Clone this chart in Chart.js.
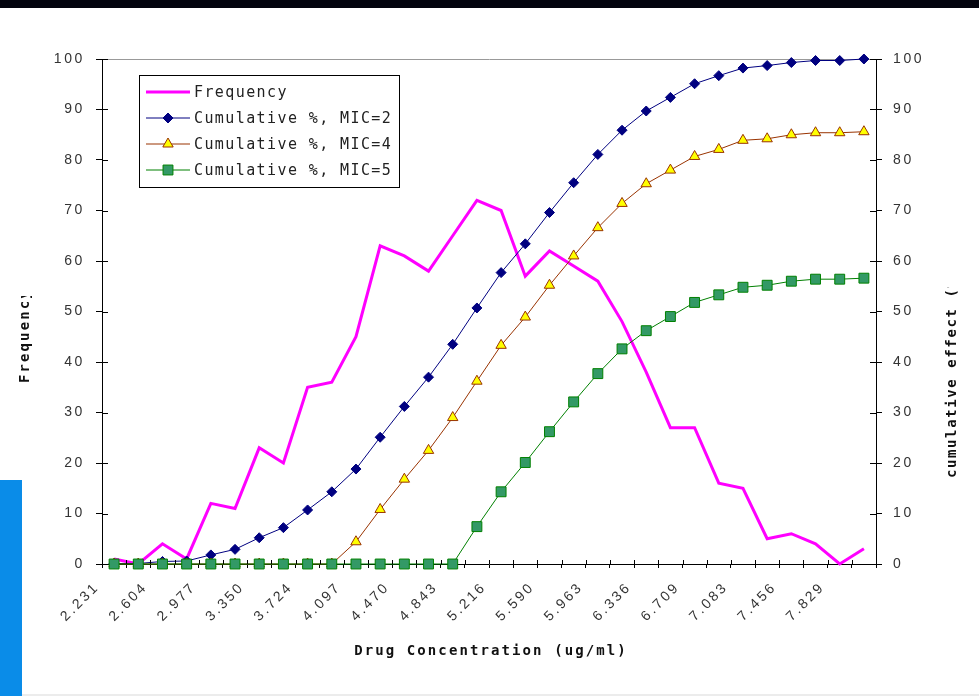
<!DOCTYPE html>
<html>
<head>
<meta charset="utf-8">
<script src="https://cdn.jsdelivr.net/npm/chart.js@4.4.1/dist/chart.umd.min.js"></script>
<style>
html,body{margin:0;padding:0;background:#fff;overflow:hidden}
#wrap{position:relative;width:979px;height:696px}
#topband{position:absolute;left:0;top:0;width:979px;height:8px;background:#03040e}
#sidebar{position:absolute;left:0;top:480px;width:22px;height:216px;background:#0a8ce8}
#bottomline{position:absolute;left:22px;top:694px;width:957px;height:2px;background:#ececec}
canvas{position:absolute;left:0;top:0}
</style>
</head>
<body>
<div id="wrap">
  <div id="topband"></div>
  <div id="sidebar"></div>
  <div id="bottomline"></div>
  <canvas id="chart" width="979" height="696"></canvas>
</div>
<script>
// x tick labels, one every second category (ug/ml)
const tickLabels = ['2.231','2.604','2.977','3.350','3.724','4.097','4.470','4.843',
                    '5.216','5.590','5.963','6.336','6.709','7.083','7.456','7.829'];

// values, 32 concentration classes
const frequency = [1,0,4,1,12,11,23,20,35,36,45,63,61,58,65,72,
                   70,57,62,59,56,48,38,27,27,16,15,5,6,4,0,3];
const cumMic2 = [0.1,0.1,0.5,0.6,1.8,2.9,5.2,7.2,10.7,14.3,18.8,25.1,31.2,37,43.5,50.7,
                 57.7,63.4,69.6,75.5,81.1,85.9,89.7,92.4,95.1,96.7,98.2,98.7,99.3,99.7,99.7,100];
const cumMic4 = [0,0,0,0,0,0,0,0,0,0,4.4,10.8,16.8,22.5,29,36.2,
                 43.3,48.9,55.2,61,66.6,71.4,75.3,78,80.7,82.1,83.9,84.2,85,85.4,85.4,85.6];
const cumMic5 = [0,0,0,0,0,0,0,0,0,0,0,0,0,0,0,7.4,
                 14.3,20.1,26.2,32.1,37.7,42.6,46.2,49,51.8,53.3,54.8,55.2,56,56.4,56.4,56.6];

const labels = frequency.map((_, i) => i % 2 === 0 ? tickLabels[i / 2] : '');

const TXT = '#333';
const MONO = '"DejaVu Sans Mono", monospace';
Chart.defaults.font.family = '"Liberation Sans", Arial, sans-serif';

const spacing = {
  id: 'spacing',
  beforeDraw(chart){ chart.ctx.letterSpacing = '2.6px'; }
};

// short tick parts inside the plot (axes ticks cross the axis lines)
const innerTicks = {
  id: 'innerTicks',
  afterDraw(chart){
    const {ctx, chartArea:a, scales} = chart;
    ctx.save();
    ctx.strokeStyle = '#000'; ctx.lineWidth = 1;
    ctx.beginPath();
    scales.y.ticks.forEach(t=>{
      const y = Math.round(scales.y.getPixelForValue(t.value)) + 0.5;
      ctx.moveTo(a.left, y); ctx.lineTo(a.left + 6, y);
      ctx.moveTo(a.right, y); ctx.lineTo(a.right - 6, y);
    });
    const xs = scales.x, half = (xs.getPixelForValue(1) - xs.getPixelForValue(0)) / 2;
    for(let i=0;i<labels.length;i++){
      const x = Math.round(xs.getPixelForValue(i) + half) + 0.5;
      ctx.moveTo(x, a.bottom); ctx.lineTo(x, a.bottom - 4);
    }
    ctx.stroke();
    ctx.restore();
  }
};

function marker(ctx, ds, x, y){
  if(!ds.pointRadius) return;
  ctx.fillStyle = ds.pointBackgroundColor; ctx.strokeStyle = ds.pointBorderColor; ctx.lineWidth = 1;
  if(Chart.helpers && Chart.helpers.drawPoint){
    Chart.helpers.drawPoint(ctx, {pointStyle: ds.pointStyle, rotation: 0, radius: ds.pointRadius, borderWidth: 1}, x, y);
  }
}

const boxLegend = {
  id: 'boxLegend',
  afterDraw(chart){
    const ctx = chart.ctx;
    ctx.save();
    ctx.fillStyle = '#fff'; ctx.strokeStyle = '#000'; ctx.lineWidth = 1;
    ctx.fillRect(139.5, 75.5, 260, 112); ctx.strokeRect(139.5, 75.5, 260, 112);
    const rows = [92, 118, 144, 170];
    chart.data.datasets.forEach((ds, i)=>{
      const y = rows[i];
      ctx.beginPath();
      ctx.strokeStyle = ds.borderColor; ctx.lineWidth = ds.borderWidth;
      ctx.moveTo(146, y); ctx.lineTo(190, y); ctx.stroke();
      marker(ctx, ds, 168, y);
      ctx.fillStyle = '#222'; ctx.font = '15px ' + MONO; ctx.letterSpacing = '1.4px';
      ctx.textAlign = 'left'; ctx.textBaseline = 'middle';
      ctx.fillText(ds.label, 194, y + 1);
    });
    ctx.restore();
  }
};

const axisTitles = {
  id: 'axisTitles',
  afterDraw(chart){
    const ctx = chart.ctx;
    ctx.save();
    ctx.fillStyle = '#111'; ctx.font = 'bold 14px ' + MONO; ctx.letterSpacing = '2.1px';
    ctx.textAlign = 'center'; ctx.textBaseline = 'middle';
    ctx.fillText('Drug Concentration (ug/ml)', 491, 651);

    ctx.textAlign = 'left';
    ctx.save();
    ctx.beginPath(); ctx.rect(0, 296, 60, 200); ctx.clip();
    ctx.translate(25, 383); ctx.rotate(-Math.PI/2);
    ctx.fillText('Frequency', 0, 0);
    ctx.restore();

    ctx.save();
    ctx.letterSpacing = '1.6px';
    ctx.beginPath(); ctx.rect(920, 287, 59, 220); ctx.clip();
    ctx.translate(952, 478); ctx.rotate(-Math.PI/2);
    ctx.fillText('cumulative effect (%)', 0, 0);
    ctx.restore();
    ctx.restore();
  }
};

const tickFont = {size: 14};

new Chart(document.getElementById('chart'), {
  type: 'line',
  data: {
    labels,
    datasets: [
      {label:'Frequency', data: frequency, yAxisID:'y', order:4,
       borderColor:'#ff00ff', backgroundColor:'#ff00ff', borderWidth:3, pointRadius:0, pointHoverRadius:0},
      {label:'Cumulative %, MIC=2', data: cumMic2, yAxisID:'y2', order:3,
       borderColor:'#000080', borderWidth:1, pointStyle:'rectRot', pointRadius:5,
       pointBackgroundColor:'#000080', pointBorderColor:'#000080'},
      {label:'Cumulative %, MIC=4', data: cumMic4, yAxisID:'y2', order:2,
       borderColor:'#993300', borderWidth:1, pointStyle:'triangle', pointRadius:6,
       pointBackgroundColor:'#ffff00', pointBorderColor:'#993300'},
      {label:'Cumulative %, MIC=5', data: cumMic5, yAxisID:'y2', order:1,
       borderColor:'#008000', borderWidth:1, pointStyle:'rect', pointRadius:7,
       pointBackgroundColor:'#339966', pointBorderColor:'#008000'}
    ]
  },
  options: {
    responsive: false,
    animation: false,
    devicePixelRatio: 1,
    clip: false,
    layout: {padding: {top: 59, left: 0, right: 0, bottom: 0}},
    plugins: {legend: {display: false}, tooltip: {enabled: false}},
    elements: {line: {tension: 0}},
    scales: {
      x: {
        offset: true,
        grid: {offset: true, drawOnChartArea: false, tickLength: 4, tickColor: '#000'},
        border: {color: '#000'},
        ticks: {autoSkip: false, minRotation: 45, maxRotation: 45, font: tickFont, color: TXT,
                labelOffset: -17, padding: 11},
        afterFit(s){ s.height = 132; }
      },
      y: {
        position: 'left', min: 0, max: 100,
        ticks: {stepSize: 10, font: tickFont, color: TXT, padding: 11},
        grid: {color: c => (c.tick && c.tick.value === 100) ? '#999' : 'rgba(0,0,0,0)',
               tickColor: '#000', tickLength: 6},
        border: {color: '#000'},
        afterFit(s){ s.width = 102; }
      },
      y2: {
        position: 'right', min: 0, max: 100,
        ticks: {stepSize: 10, font: tickFont, color: TXT, padding: 11},
        grid: {drawOnChartArea: false, tickColor: '#000', tickLength: 6},
        border: {color: '#000'},
        afterFit(s){ s.width = 103; }
      }
    }
  },
  plugins: [spacing, innerTicks, boxLegend, axisTitles]
});
</script>
</body>
</html>
